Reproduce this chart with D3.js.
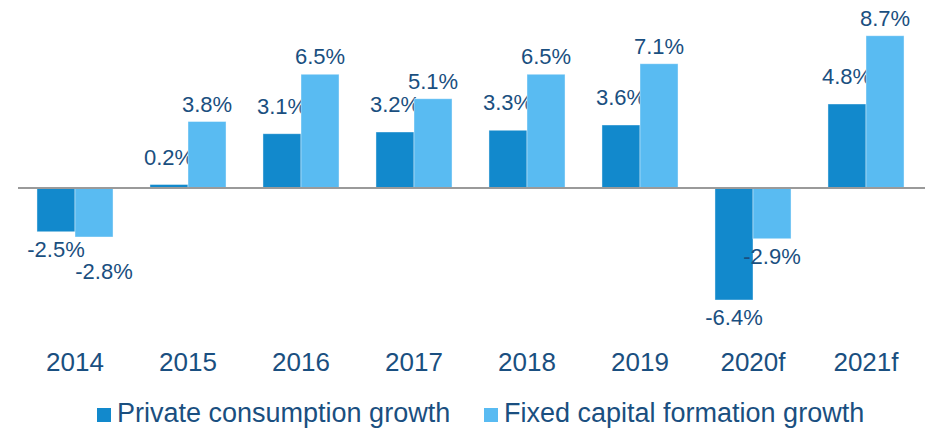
<!DOCTYPE html>
<html>
<head>
<meta charset="utf-8">
<script src="https://cdn.jsdelivr.net/npm/d3@7"></script>
<style>
  body { margin: 0; background: #fff; }
  text { font-family: Arial, "Liberation Sans", sans-serif; fill: #1a4f80; }
</style>
</head>
<body>
<svg id="chart" width="925" height="429"></svg>
<script>
var years = ['2014', '2015', '2016', '2017', '2018', '2019', '2020f', '2021f'];
var privateConsumption = [-2.5, 0.2, 3.1, 3.2, 3.3, 3.6, -6.4, 4.8];
var fixedCapital = [-2.8, 3.8, 6.5, 5.1, 6.5, 7.1, -2.9, 8.7];
var seriesNames = ['Private consumption growth', 'Fixed capital formation growth'];
var seriesColors = ['#1289cc', '#59bbf2'];

var svg = d3.select('#chart');

var x = d3.scaleBand()
    .domain(years)
    .range([18.5, 922.5])
    .paddingInner(0.327)
    .paddingOuter(0.1635);

var xSub = d3.scaleBand()
    .domain([0, 1])
    .range([0, x.bandwidth()]);

var y = d3.scaleLinear()
    .domain([-7, 9])
    .range([310.5, 30.5]);

var series = [privateConsumption, fixedCapital];

// label gap above positive bars differs a bit per series in the original
var posGap = [20, 10];
var negGap = 25;

// where the value labels go, before drawing
function labelPos(s, i) {
  var d = series[s][i];
  var lx = x(years[i]) + xSub(s) + xSub.bandwidth() / 2;
  var ly = d >= 0 ? y(d) - posGap[s] : y(d) + negGap;
  if (s === 1 && d < 0 && series[0][i] < 0) {
    // negative pair: push second label below the first if they collide
    var other = y(series[0][i]) + negGap;
    if (Math.abs(ly - other) < 20) {
      ly = other + 22;
      lx += 10;
    }
  }
  return [lx, ly];
}

series.forEach(function(vals, s) {
  var g = svg.append('g');

  g.selectAll('rect')
    .data(vals)
    .enter()
      .append('rect')
      .attr('x', function(d, i) { return x(years[i]) + xSub(s); })
      .attr('y', function(d) { return y(Math.max(0, d)); })
      .attr('width', xSub.bandwidth())
      .attr('height', function(d) { return Math.abs(y(d) - y(0)); })
      .style('fill', seriesColors[s])
      .style('stroke', '#ffffff')
      .style('stroke-opacity', 0.5)
      .style('stroke-width', 0.8);

  g.selectAll('text')
    .data(vals)
    .enter()
      .append('text')
      .attr('x', function(d, i) { return labelPos(s, i)[0]; })
      .attr('y', function(d, i) { return labelPos(s, i)[1]; })
      .attr('text-anchor', 'middle')
      .style('font-size', '22px')
      .text(function(d) { return d.toFixed(1) + '%'; });
});

// zero line
svg.append('line')
    .attr('x1', 18)
    .attr('x2', 925)
    .attr('y1', y(0))
    .attr('y2', y(0))
    .style('stroke', '#9a9a9a')
    .style('stroke-width', 2);

// category labels
svg.append('g').selectAll('text')
  .data(years)
  .enter()
    .append('text')
    .attr('x', function(d) { return x(d) + x.bandwidth() / 2; })
    .attr('y', 371)
    .attr('text-anchor', 'middle')
    .style('font-size', '26px')
    .text(function(d) { return d; });

// legend
var legendX = [97, 484];
var legend = svg.append('g').selectAll('g')
  .data(seriesNames)
  .enter()
    .append('g')
    .attr('transform', function(d, i) { return 'translate(' + legendX[i] + ',408)'; });

legend.append('rect')
    .attr('width', 14)
    .attr('height', 14)
    .style('fill', function(d, i) { return seriesColors[i]; });

legend.append('text')
    .attr('x', 20)
    .attr('y', 14)
    .style('font-size', '27px')
    .text(function(d) { return d; });
</script>
</body>
</html>
